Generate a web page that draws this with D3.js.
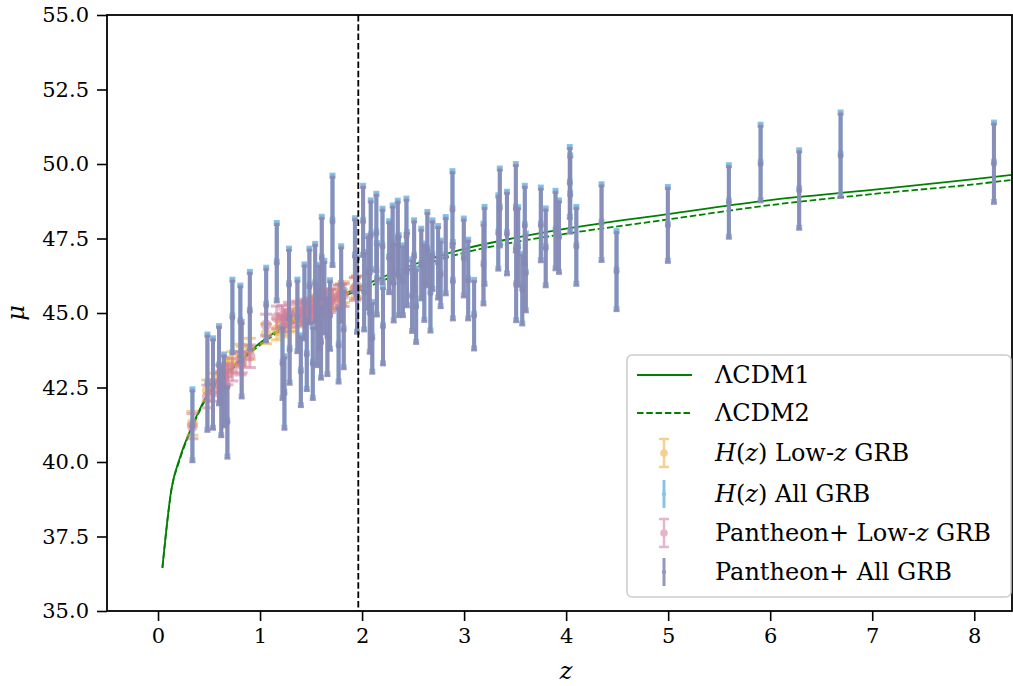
<!DOCTYPE html>
<html>
<head>
<meta charset="utf-8">
<script src="https://cdn.jsdelivr.net/npm/d3@7"></script>
<style>
    body { margin: 0; background: #ffffff; }
    #chart svg { display: block; }
    .tick-label { font-family: "DejaVu Serif", "Liberation Serif", serif; font-size: 21px; fill: #000; }
    .axis-title { font-family: "DejaVu Serif", "Liberation Serif", serif; font-size: 24px; font-style: italic; fill: #000; }
    .legend-text { font-family: "DejaVu Serif", "Liberation Serif", serif; font-size: 24px; fill: #000; }
</style>
</head>
<body>
<div id="chart"></div>
<script>
// ---- model curves ----
const curveZ = [0.043, 0.131, 0.215, 0.34, 0.5, 0.7, 0.9, 1.06, 1.4, 1.9, 2.0, 2.5, 3.0, 3.5, 4.0, 5.0, 6.0, 7.0, 8.0, 8.4];
const lcdm1 = [36.45, 39.08, 40.15, 41.25, 42.35, 43.1, 43.72, 44.15, 44.9, 45.75, 45.9, 46.62, 47.15, 47.52, 47.83, 48.32, 48.79, 49.13, 49.49, 49.65];
const lcdm2 = [36.45, 39.05, 40.1, 41.2, 42.3, 43.03, 43.65, 44.08, 44.82, 45.67, 45.8, 46.5, 47.02, 47.38, 47.66, 48.14, 48.62, 48.99, 49.32, 49.48];

// redshift that splits low-z and high-z GRBs
const zSplit = 1.963;

// ---- all GRBs (large error bars) ----
const allZ = [0.337, 0.484, 0.539, 0.598, 0.62, 0.647, 0.68, 0.729, 0.807, 0.82, 0.9,
    1.06, 1.164, 1.22, 1.239, 1.284, 1.29, 1.366, 1.4, 1.435, 1.458, 1.484, 1.517, 1.54, 1.56,
    1.58, 1.598, 1.605, 1.63, 1.66, 1.686, 1.71, 1.77, 1.795, 1.82, 1.93, 1.95,
    2.01, 2.02, 2.06, 2.075, 2.085, 2.1, 2.14, 2.145, 2.2, 2.205, 2.265, 2.3, 2.31, 2.35, 2.36,
    2.4, 2.435, 2.44, 2.49, 2.51, 2.53, 2.58, 2.61, 2.64, 2.67, 2.69, 2.745, 2.77, 2.82, 2.886, 2.89,
    2.997, 3.04, 3.098, 3.19, 3.2, 3.335, 3.35, 3.42, 3.507, 3.51, 3.53, 3.57, 3.595, 3.605,
    3.752, 3.8, 3.896, 3.93, 4.036, 4.04, 4.1, 4.347, 4.494, 4.997, 5.595, 5.906, 6.284, 6.69, 8.193];
const allMuP = [41.2, 42.63, 42.6, 43.22, 42.0, 42.37, 41.33, 44.85, 44.71, 43.4, 45.05,
    45.25, 46.67, 43.3, 42.3, 45.94, 43.76, 44.87, 43.03, 45.34, 43.6, 45.88, 43.3, 45.97, 44.5,
    45.17, 44.0, 46.83, 45.5, 44.2, 44.9, 48.06, 43.9, 45.94, 44.43, 46.9, 45.57,
    48.06, 45.7, 46.33, 44.99, 47.58, 44.15, 47.67, 46.1, 47.22, 44.54, 46.84, 47.28, 46.0, 47.5, 46.22,
    46.05, 47.56, 46.44, 45.55, 46.89, 45.21, 46.61, 46.0, 47.11, 45.66, 46.91, 46.67, 46.28, 46.89, 48.46, 46.05,
    46.83, 46.09, 44.91, 46.61, 47.22, 47.67, 48.51, 47.65, 48.5, 45.94, 47.2, 45.77, 47.92, 46.33,
    47.94, 47.17, 47.75, 47.53, 49.35, 48.96, 47.22, 48.0, 46.39, 47.94, 48.71, 50.0, 49.11, 50.28, 50.01];
const allMuH = [41.3, 42.73, 42.7, 43.31, 42.1, 42.47, 41.43, 44.95, 44.8, 43.5, 45.15,
    45.35, 46.77, 43.4, 42.4, 46.04, 43.86, 44.97, 43.13, 45.44, 43.7, 45.98, 43.4, 46.07, 44.6,
    45.27, 44.1, 46.93, 45.6, 44.3, 45.0, 48.16, 44.0, 46.04, 44.53, 47.0, 45.67,
    48.16, 45.8, 46.43, 45.09, 47.68, 44.25, 47.77, 46.2, 47.32, 44.64, 46.94, 47.38, 46.1, 47.6, 46.32,
    46.15, 47.66, 46.54, 45.65, 46.99, 45.31, 46.71, 46.1, 47.21, 45.76, 47.01, 46.77, 46.38, 46.99, 48.56, 46.15,
    46.93, 46.19, 45.01, 46.71, 47.32, 47.77, 48.61, 47.75, 48.6, 46.04, 47.3, 45.87, 48.02, 46.43,
    48.04, 47.27, 47.85, 47.63, 49.45, 49.06, 47.32, 48.1, 46.49, 48.04, 48.81, 50.1, 49.21, 50.38, 50.11];
const allErr = [1.19, 1.6, 1.5, 1.3, 1.15, 1.19, 1.2, 1.22, 1.17, 1.25, 1.28,
    1.22, 1.3, 1.2, 1.2, 1.17, 1.15, 1.2, 1.17, 1.24, 1.2, 1.23, 1.2, 1.3, 1.3,
    1.4, 1.22, 1.35, 1.2, 1.3, 1.15, 1.5, 1.25, 1.25, 1.3, 1.23, 1.25,
    1.16, 1.3, 1.2, 1.34, 1.15, 1.17, 1.28, 1.2, 1.23, 1.28, 1.19, 1.28, 1.3, 1.22, 1.34,
    1.17, 1.23, 1.23, 1.2, 1.17, 1.23, 1.17, 1.28, 1.23, 1.3, 1.15, 1.2, 1.1, 1.28, 1.25, 1.28,
    1.29, 1.32, 1.15, 1.34, 1.29, 1.23, 1.29, 1.37, 1.45, 1.23, 1.3, 1.17, 1.3, 1.29,
    1.22, 1.29, 1.3, 1.2, 1.17, 1.28, 1.29, 1.27, 1.31, 1.24, 1.2, 1.27, 1.3, 1.4, 1.33];

// ---- low-z GRBs (calibrated, small error bars) ----
const lowZ = [0.337, 0.484, 0.539, 0.598, 0.62, 0.647, 0.68, 0.729, 0.807, 0.82, 0.9,
    1.06, 1.164, 1.22, 1.239, 1.284, 1.29, 1.366, 1.4, 1.435, 1.458, 1.484, 1.517, 1.54, 1.56,
    1.58, 1.598, 1.605, 1.63, 1.66, 1.686, 1.71, 1.77, 1.795, 1.82, 1.93, 1.95];
const lowMuH = [41.3, 42.4, 42.65, 42.9, 42.95, 43.1, 43.2, 43.35, 43.6, 43.55, 43.8,
    44.3, 44.45, 44.6, 44.55, 44.7, 44.75, 44.85, 44.95, 45.05, 45.05, 45.1, 45.15, 45.2, 45.25,
    45.3, 45.3, 45.35, 45.4, 45.45, 45.45, 45.5, 45.6, 45.65, 45.7, 45.85, 45.9];
const lowErrH = [0.4, 0.35, 0.33, 0.35, 0.32, 0.35, 0.33, 0.35, 0.35, 0.33, 0.35,
    0.33, 0.35, 0.32, 0.35, 0.33, 0.35, 0.32, 0.35, 0.33, 0.35, 0.32, 0.35, 0.33, 0.35,
    0.33, 0.35, 0.32, 0.35, 0.33, 0.35, 0.32, 0.35, 0.33, 0.35, 0.35, 0.35];
const lowMuP = [41.2, 42.2, 42.4, 42.6, 42.7, 42.85, 42.95, 43.1, 43.3, 43.35, 43.55,
    44.6, 44.85, 44.9, 44.75, 45.0, 44.9, 45.05, 44.95, 45.1, 45.0, 45.15, 45.05, 45.2, 45.1,
    45.25, 45.15, 45.3, 45.3, 45.35, 45.4, 45.45, 45.55, 45.6, 45.6, 45.8, 45.85];
const lowErrP = [0.42, 0.38, 0.36, 0.38, 0.35, 0.38, 0.36, 0.38, 0.38, 0.36, 0.38,
    0.36, 0.38, 0.35, 0.38, 0.36, 0.38, 0.35, 0.38, 0.36, 0.38, 0.35, 0.38, 0.36, 0.38,
    0.36, 0.38, 0.35, 0.38, 0.36, 0.38, 0.35, 0.38, 0.36, 0.38, 0.38, 0.38];

// axis ticks
const xTicks = [0, 1, 2, 3, 4, 5, 6, 7, 8];
const yTicks = [35, 37.5, 40, 42.5, 45, 47.5, 50, 52.5, 55];

const green = "#008000";
const styles = {
    hLow:  { color: "#f0b445", opacity: 0.6, lw: 3, cap: 6, capW: 3, r: 5.5 },
    hAll:  { color: "#78b8e2", opacity: 0.85, lw: 4, cap: 3, capW: 3, r: 3 },
    pLow:  { color: "#d07ca2", opacity: 0.55, lw: 3, cap: 6, capW: 3, r: 5.5 },
    pAll:  { color: "#8789b4", opacity: 0.88, lw: 4, cap: 3, capW: 3, r: 3 }
};

function drawErrorbars(g, x, y, zs, mus, errs, st) {
    const grp = g.append("g");
    const pts = zs.map((z, i) => ({ z: z, mu: mus[i], e: errs[i] }));
    // vertical bars
    grp.selectAll("line.bar").data(pts).enter().append("line")
        .attr("x1", d => x(d.z)).attr("x2", d => x(d.z))
        .attr("y1", d => y(d.mu - d.e)).attr("y2", d => y(d.mu + d.e))
        .attr("stroke", st.color).attr("stroke-width", st.lw).attr("opacity", st.opacity);
    // caps
    ["top", "bottom"].forEach(side => {
        grp.selectAll("line.cap-" + side).data(pts).enter().append("line")
            .attr("x1", d => x(d.z) - st.cap).attr("x2", d => x(d.z) + st.cap)
            .attr("y1", d => y(side === "top" ? d.mu + d.e : d.mu - d.e))
            .attr("y2", d => y(side === "top" ? d.mu + d.e : d.mu - d.e))
            .attr("stroke", st.color).attr("stroke-width", st.capW).attr("opacity", st.opacity);
    });
    // markers
    grp.selectAll("circle").data(pts).enter().append("circle")
        .attr("cx", d => x(d.z)).attr("cy", d => y(d.mu)).attr("r", st.r)
        .attr("fill", st.color).attr("opacity", st.opacity);
}

function createChart() {
    const W = 1013, H = 686;
    const margin = { top: 15, right: 1, bottom: 75, left: 107 };
    const width = W - margin.left - margin.right;
    const height = H - margin.top - margin.bottom;

    const svg = d3.select("#chart").append("svg")
        .attr("width", W).attr("height", H);

    const g = svg.append("g")
        .attr("transform", `translate(${margin.left}, ${margin.top})`);

    const x = d3.scaleLinear().domain([-0.5, 8.37]).range([0, width]);
    const y = d3.scaleLinear().domain([35, 55]).range([height, 0]);

    svg.append("defs").append("clipPath").attr("id", "plotClip")
        .append("rect").attr("width", width).attr("height", height);

    const plot = g.append("g").attr("clip-path", "url(#plotClip)");

    // model curves (behind the data)
    const line1 = d3.line().x((d, i) => x(curveZ[i])).y(d => y(d)).curve(d3.curveMonotoneX);
    plot.append("path").attr("d", line1(lcdm1))
        .attr("fill", "none").attr("stroke", green).attr("stroke-width", 1.8);
    plot.append("path").attr("d", line1(lcdm2))
        .attr("fill", "none").attr("stroke", green).attr("stroke-width", 1.8)
        .attr("stroke-dasharray", "6.5,2.8");

    // data, in legend order
    drawErrorbars(plot, x, y, lowZ, lowMuH, lowErrH, styles.hLow);
    drawErrorbars(plot, x, y, allZ, allMuH, allErr, styles.hAll);
    drawErrorbars(plot, x, y, lowZ, lowMuP, lowErrP, styles.pLow);
    drawErrorbars(plot, x, y, allZ, allMuP, allErr, styles.pAll);

    // split line
    plot.append("line")
        .attr("x1", x(zSplit)).attr("x2", x(zSplit))
        .attr("y1", 0).attr("y2", height)
        .attr("stroke", "#000").attr("stroke-width", 1.8)
        .attr("stroke-dasharray", "6.5,2.8");

    // axes
    const xAxis = g.append("g")
        .attr("transform", `translate(0, ${height})`)
        .call(d3.axisBottom(x).tickValues(xTicks).tickSize(10).tickPadding(7).tickFormat(d3.format("d")));
    xAxis.select(".domain").remove();
    xAxis.selectAll("line").attr("stroke-width", 1.6);
    xAxis.selectAll("text").attr("class", "tick-label").attr("font-family", null).attr("font-size", null);

    const yAxis = g.append("g")
        .call(d3.axisLeft(y).tickValues(yTicks).tickSize(10).tickPadding(8).tickFormat(d3.format(".1f")));
    yAxis.select(".domain").remove();
    yAxis.selectAll("line").attr("stroke-width", 1.6);
    yAxis.selectAll("text").attr("class", "tick-label").attr("font-family", null).attr("font-size", null);

    // frame
    g.append("rect").attr("width", width).attr("height", height)
        .attr("fill", "none").attr("stroke", "#000").attr("stroke-width", 1.8);

    // axis labels
    svg.append("text").attr("class", "axis-title")
        .attr("x", margin.left + x(4.0)).attr("y", 679)
        .attr("text-anchor", "middle").text("z");
    svg.append("text").attr("class", "axis-title")
        .attr("transform", `translate(24, ${margin.top + height / 2}) rotate(-90)`)
        .attr("text-anchor", "middle").text("μ");

    // legend
    const legend = svg.append("g").attr("transform", "translate(627, 355)");
    legend.append("rect").attr("width", 384).attr("height", 242).attr("rx", 5)
        .attr("fill", "#fff").attr("fill-opacity", 0.85)
        .attr("stroke", "#cccccc").attr("stroke-width", 1.5);

    const rowsY = [20, 58, 98, 139, 178, 217];
    const hx0 = 10, hx1 = 65, hc = 37;
    legend.append("line").attr("x1", hx0).attr("x2", hx1).attr("y1", rowsY[0]).attr("y2", rowsY[0])
        .attr("stroke", green).attr("stroke-width", 1.8);
    legend.append("line").attr("x1", hx0).attr("x2", hx1).attr("y1", rowsY[1]).attr("y2", rowsY[1])
        .attr("stroke", green).attr("stroke-width", 1.8).attr("stroke-dasharray", "6.5,2.8");

    const handles = [
        { st: styles.hLow, cap: 5, lw: 2.5, r: 3.8 },
        { st: styles.hAll, cap: 0, lw: 3, r: 2.2 },
        { st: styles.pLow, cap: 5, lw: 2.5, r: 3.8 },
        { st: styles.pAll, cap: 0, lw: 3, r: 2.2 }
    ];
    handles.forEach((h, i) => {
        const cy = rowsY[i + 2];
        const hg = legend.append("g").attr("opacity", h.st.opacity);
        hg.append("line").attr("x1", hc).attr("x2", hc).attr("y1", cy - 14).attr("y2", cy + 14)
            .attr("stroke", h.st.color).attr("stroke-width", h.lw);
        if (h.cap > 0) {
            [cy - 14, cy + 14].forEach(yy => hg.append("line")
                .attr("x1", hc - h.cap).attr("x2", hc + h.cap).attr("y1", yy).attr("y2", yy)
                .attr("stroke", h.st.color).attr("stroke-width", 2.5));
        }
        hg.append("circle").attr("cx", hc).attr("cy", cy).attr("r", h.r).attr("fill", h.st.color);
    });

    // legend labels, with italic parts
    const labels = [
        [["ΛCDM1", false]],
        [["ΛCDM2", false]],
        [["H", true], ["(", false], ["z", true], [") Low-", false], ["z", true], [" GRB", false]],
        [["H", true], ["(", false], ["z", true], [") All GRB", false]],
        [["Pantheon+ Low-", false], ["z", true], [" GRB", false]],
        [["Pantheon+ All GRB", false]]
    ];
    labels.forEach((parts, i) => {
        const t = legend.append("text").attr("class", "legend-text")
            .attr("x", 88).attr("y", rowsY[i] + 8);
        parts.forEach(p => t.append("tspan").attr("font-style", p[1] ? "italic" : "normal").text(p[0]));
    });
}

createChart();
</script>
</body>
</html>
